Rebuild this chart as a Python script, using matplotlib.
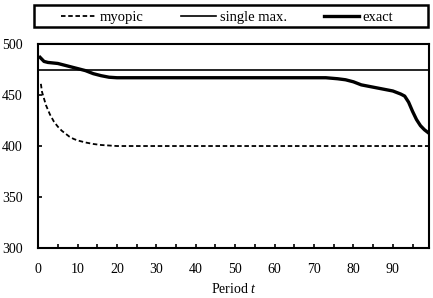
import matplotlib
matplotlib.use('Agg')
import matplotlib.pyplot as plt
from matplotlib.patches import Rectangle
from matplotlib.ticker import MultipleLocator

plt.rcParams['font.family'] = 'Liberation Serif'
plt.rcParams['mathtext.fontset'] = 'custom'
plt.rcParams['mathtext.rm'] = 'Liberation Serif'
plt.rcParams['mathtext.it'] = 'Liberation Serif:italic'

# values
myopic_t = [0.7, 1, 2, 3, 4, 5, 6, 7, 8, 9, 10, 12, 14, 16, 18, 20, 99]
myopic_v = [461, 453, 440, 431, 424, 419, 415, 412, 409, 407, 405.5, 403.5, 402, 401, 400.5, 400, 400]

single_t = [0, 99]
single_v = [475, 475]

exact_t = [0.5, 1.5, 2.5, 5, 8, 10, 12, 14, 16, 18, 20, 73, 76, 78, 80, 82, 86, 90, 92, 93,
           94, 95, 96, 97, 98, 99]
exact_v = [487, 483, 482, 481, 478, 476, 474, 471, 469, 467.5, 467, 467, 466, 465, 463, 460,
           457, 454, 451, 449, 443, 434, 426, 420, 416, 413]

fig = plt.figure(figsize=(4.33, 2.98), dpi=100)
ax = fig.add_axes([0.088, 0.168, 0.903, 0.684])

ax.plot(myopic_t, myopic_v, color='black', lw=1.3, ls=(0, (2.5, 1.5)), label='myopic')
ax.plot(single_t, single_v, color='black', lw=1.2, label='single max.')
ax.plot(exact_t, exact_v, color='black', lw=2.4, label='exact')

ax.set_xlim(0, 99.2)
ax.set_ylim(300, 500)
ax.xaxis.set_major_locator(MultipleLocator(10))
ax.xaxis.set_minor_locator(MultipleLocator(5))
ax.yaxis.set_major_locator(MultipleLocator(50))
ax.tick_params(axis='x', which='both', direction='in', length=3, width=1.2, pad=11, labelsize=10)
ax.tick_params(axis='y', which='both', direction='in', length=3, width=1.2, pad=11, labelsize=10)
ax.tick_params(axis='x', which='minor', labelbottom=False)
for s in ax.spines.values():
    s.set_linewidth(1.5)
ax.set_xlabel('Period $t$', fontsize=10, labelpad=4)

# legend box spanning the width, entries centred inside
fig.patches.append(Rectangle((0.078, 0.911), 0.91, 0.072, transform=fig.transFigure,
                             fill=False, edgecolor='black', linewidth=1.8))
fig.legend(loc='center', bbox_to_anchor=(0.525, 0.942), ncol=3, frameon=False, fontsize=10.5,
           handlelength=2.4, handletextpad=0.25, columnspacing=2.55, borderaxespad=0, borderpad=0)

fig.savefig('out.png', dpi=100)
